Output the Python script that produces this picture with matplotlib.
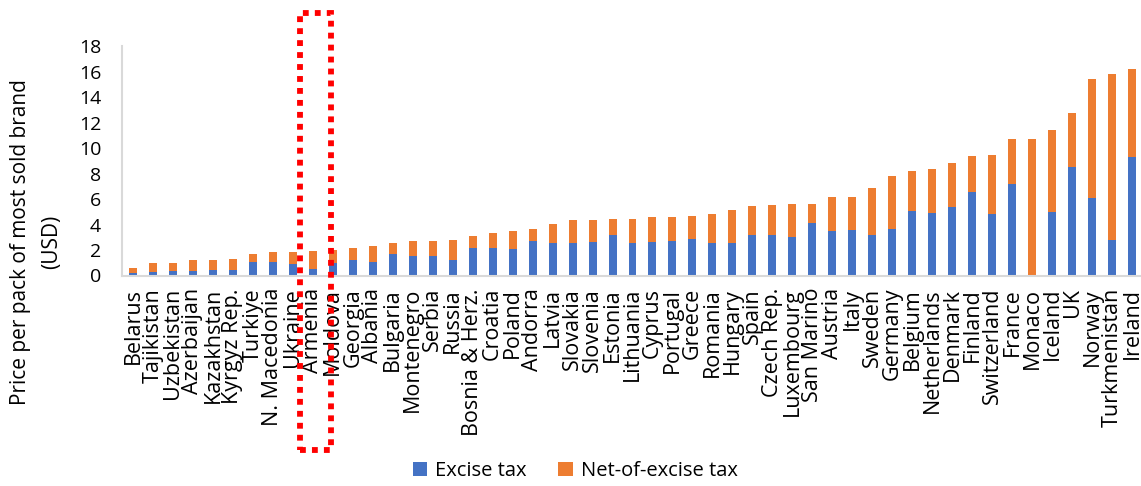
import matplotlib
matplotlib.use("Agg")
import matplotlib.pyplot as plt
import matplotlib.transforms as mtransforms
from matplotlib.patches import Rectangle, Patch
import numpy as np

plt.rcParams["font.family"] = ["Open Sans", "DejaVu Sans"]

countries = [
    "Belarus", "Tajikistan", "Uzbekistan", "Azerbaijan", "Kazakhstan", "Kyrgyz Rep.",
    "Turkiye", "N. Macedonia", "Ukraine", "Armenia", "Moldova", "Georgia", "Albania",
    "Bulgaria", "Montenegro", "Serbia", "Russia", "Bosnia & Herz.", "Croatia", "Poland",
    "Andorra", "Latvia", "Slovakia", "Slovenia", "Estonia", "Lithuania", "Cyprus",
    "Portugal", "Greece", "Romania", "Hungary", "Spain", "Czech Rep.", "Luxembourg",
    "San Marino", "Austria", "Italy", "Sweden", "Germany", "Belgium", "Netherlands",
    "Denmark", "Finland", "Switzerland", "France", "Monaco", "Iceland", "UK", "Norway",
    "Turkmenistan", "Ireland",
]

# Total retail price per pack (USD)
total_price = [
    0.57, 0.96, 1.00, 1.22, 1.22, 1.30, 1.69, 1.85, 1.87, 1.93, 2.00, 2.19, 2.35,
    2.55, 2.72, 2.74, 2.79, 3.10, 3.37, 3.50, 3.68, 4.05, 4.36, 4.36, 4.47, 4.47,
    4.57, 4.57, 4.68, 4.83, 5.15, 5.44, 5.52, 5.62, 5.62, 6.12, 6.12, 6.88, 7.77,
    8.16, 8.37, 8.79, 9.39, 9.47, 10.70, 10.70, 11.38, 12.72, 15.45, 15.82, 16.21,
]

# Excise component of the price (USD)
excise_tax = [
    0.17, 0.30, 0.38, 0.35, 0.46, 0.46, 1.09, 1.09, 0.88, 0.51, 0.96, 1.24, 1.09,
    1.72, 1.55, 1.56, 1.19, 2.14, 2.19, 2.06, 2.69, 2.55, 2.58, 2.63, 3.16, 2.58,
    2.63, 2.69, 2.85, 2.53, 2.55, 3.21, 3.16, 3.00, 4.10, 3.47, 3.55, 3.21, 3.68,
    5.04, 4.94, 5.36, 6.54, 4.81, 7.17, 0.00, 4.99, 8.50, 6.07, 2.81, 9.29,
]

net_of_excise = [t - e for t, e in zip(total_price, excise_tax)]

y_ticks = [0, 2, 4, 6, 8, 10, 12, 14, 16, 18]
highlight = "Armenia"

BLUE = "#4472C4"
ORANGE = "#ED7D31"
AXIS_GREY = "#D9D9D9"

W, H = 1141, 486
fig = plt.figure(figsize=(W / 100, H / 100), dpi=100)
ax = fig.add_axes([122 / W, 1 - 275.5 / H, (1141 - 122) / W, (275.5 - 46) / H])

x = np.arange(len(countries))
ax.bar(x, excise_tax, width=0.4, color=BLUE, label="Excise tax")
ax.bar(x, net_of_excise, width=0.4, bottom=excise_tax, color=ORANGE,
       label="Net-of-excise tax")

ax.set_xlim(-0.55, len(countries) - 0.55)
ax.set_ylim(0, 18)
ax.set_yticks(y_ticks)
ax.set_yticklabels([str(v) for v in y_ticks], fontsize=14)
ax.set_xticks(x)
ax.set_xticklabels(countries, rotation=90, ha="center", va="top", fontsize=15.5)
ax.tick_params(axis="both", length=0)
ax.tick_params(axis="y", pad=15)
ax.tick_params(axis="x", pad=9)

for side in ("top", "right"):
    ax.spines[side].set_visible(False)
for side in ("left", "bottom"):
    ax.spines[side].set_color(AXIS_GREY)
    ax.spines[side].set_linewidth(1.5)

fig.text(36 / W, 1 - 242 / H, "Price per pack of most sold brand\n(USD)",
         rotation=90, ha="center", va="center", multialignment="center",
         fontsize=15, linespacing=1.6)

# Dotted frame around the highlighted country
hi = countries.index(highlight)
trans = mtransforms.blended_transform_factory(ax.transData, fig.transFigure)
frame = Rectangle((hi - 0.65, 1 - 450 / H), 1.55, (450 - 13) / H,
                  transform=trans, fill=False, edgecolor="#FF0000",
                  linewidth=4.2, linestyle=(0, (1, 1.05)), clip_on=False)
frame.set_capstyle("butt")
fig.add_artist(frame)

handles = [Patch(facecolor=BLUE, label="Excise tax"),
           Patch(facecolor=ORANGE, label="Net-of-excise tax")]
fig.legend(handles=handles, loc="center", bbox_to_anchor=(575 / W, 1 - 471 / H),
           ncol=2, frameon=False, fontsize=14.5, handlelength=0.7,
           handleheight=0.7, handletextpad=0.4, columnspacing=1.6)

fig.savefig("out.png", dpi=100)
